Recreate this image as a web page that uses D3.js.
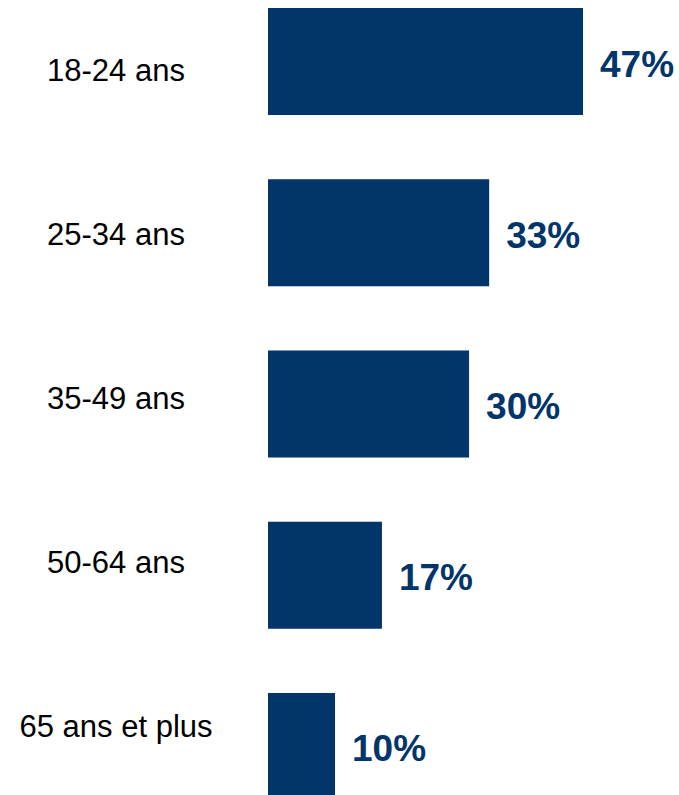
<!DOCTYPE html>
<html>
<head>
<meta charset="utf-8">
<script src="https://cdn.jsdelivr.net/npm/d3@7"></script>
<style>
  html, body { margin: 0; padding: 0; background: #ffffff; }
  svg { display: block; }
</style>
</head>
<body>
<svg id="chart" width="679" height="795"></svg>
<script>
const categories = ["18-24 ans", "25-34 ans", "35-49 ans", "50-64 ans", "65 ans et plus"];
const values = [47, 33, 30, 17, 10];
const valueLabels = ["47%", "33%", "30%", "17%", "10%"];

const svg = d3.select("#chart");
const navy = "#02356a";

const x = d3.scaleLinear().domain([0, 47]).range([268, 583]);
const y = d3.scaleBand().domain(categories).range([8, 800]).paddingInner(0.375).paddingOuter(0);
const yLabel = d3.scalePoint().domain(categories).range([81, 737]);

svg.selectAll("rect.bar")
  .data(categories)
  .join("rect")
  .attr("class", "bar")
  .attr("x", x(0))
  .attr("y", d => y(d))
  .attr("width", (d, i) => x(values[i]) - x(0))
  .attr("height", y.bandwidth())
  .attr("fill", navy);

svg.selectAll("text.cat")
  .data(categories)
  .join("text")
  .attr("class", "cat")
  .attr("x", 116)
  .attr("y", d => yLabel(d))
  .attr("text-anchor", "middle")
  .attr("font-family", "'Liberation Sans', Arial, sans-serif")
  .attr("font-size", 31)
  .attr("fill", "#000")
  .text(d => d);

svg.selectAll("text.val")
  .data(categories)
  .join("text")
  .attr("class", "val")
  .attr("x", (d, i) => x(values[i]) + 17)
  .attr("y", d => y(d) + y.bandwidth() / 2 + 15)
  .attr("font-family", "'Liberation Sans', Arial, sans-serif")
  .attr("font-weight", "bold")
  .attr("font-size", 37)
  .attr("fill", navy)
  .text((d, i) => valueLabels[i]);
</script>
</body>
</html>
